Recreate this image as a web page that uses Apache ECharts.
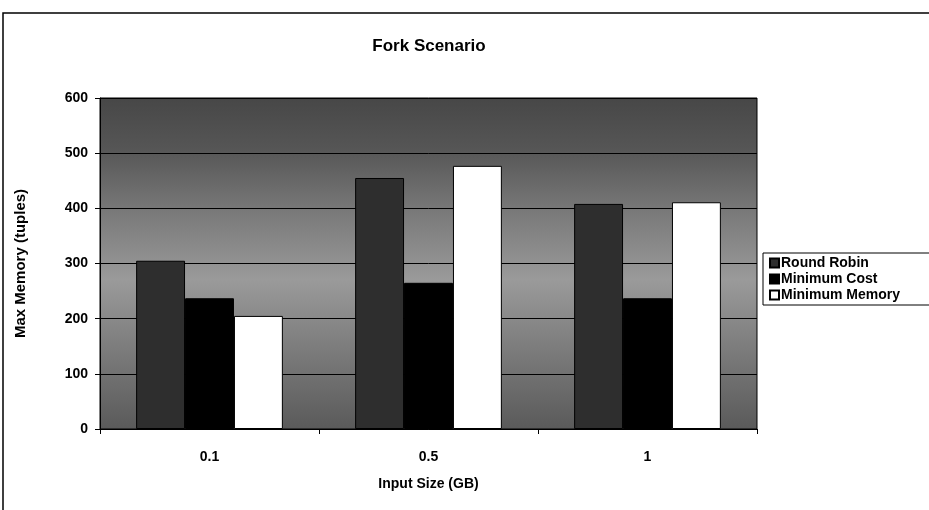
<!DOCTYPE html>
<html>
<head>
<meta charset="utf-8">
<title>Fork Scenario</title>
<script src="https://cdn.jsdelivr.net/npm/echarts@6/dist/echarts.min.js"></script>
<style>
  html, body { margin: 0; padding: 0; background: #fff; }
  #chart { width: 929px; height: 510px; }
</style>
</head>
<body>
<div id="chart"></div>
<script>
// Input sizes (GB) along the category axis
const categories = ['0.1', '0.5', '1'];
// Max memory (tuples) per scheduling strategy
const roundRobin = [305, 455, 408];
const minimumCost = [237, 265, 237];
const minimumMemory = [205, 477, 411];
const seriesNames = ['Round Robin', 'Minimum Cost', 'Minimum Memory'];

const FONT = 'Liberation Sans, Arial, sans-serif';

const chart = echarts.init(document.getElementById('chart'), null, { renderer: 'canvas' });

// Grey fill for the plot area: darker bands at the top and bottom
const plotFill = new echarts.graphic.LinearGradient(0, 0, 0, 1, [
  { offset: 0.00, color: '#474747' },
  { offset: 0.15, color: '#555555' },
  { offset: 0.35, color: '#7a7a7a' },
  { offset: 0.55, color: '#9a9a9a' },
  { offset: 0.75, color: '#7d7d7d' },
  { offset: 1.00, color: '#5a5a5a' }
]);

const barBorder = { borderColor: '#000', borderWidth: 1 };
const labelFont = { fontFamily: FONT, fontWeight: 'bold', color: '#000' };

chart.setOption({
  animation: false,
  backgroundColor: '#fff',
  title: {
    text: 'Fork Scenario',
    left: 424,
    top: 33,
    textAlign: 'center',
    textStyle: Object.assign({ fontSize: 17 }, labelFont)
  },
  legend: {
    orient: 'vertical',
    left: 763,
    top: 253,
    itemWidth: 9,
    itemHeight: 9,
    itemGap: 2,
    icon: 'rect',
    padding: [3, 60, 3, 6],
    borderColor: '#000',
    borderWidth: 1,
    textStyle: Object.assign({ fontSize: 14, padding: [0, 0, 0, -3] }, labelFont),
    data: seriesNames
  },
  grid: {
    left: 100,
    top: 98,
    width: 657,
    height: 331,
    show: true,
    backgroundColor: plotFill,
    borderColor: '#000',
    borderWidth: 1
  },
  xAxis: {
    type: 'category',
    data: categories,
    name: 'Input Size (GB)',
    nameLocation: 'middle',
    nameGap: 48,
    nameTextStyle: Object.assign({ fontSize: 14 }, labelFont),
    axisLine: { lineStyle: { color: '#000', width: 1 } },
    axisTick: { show: true, length: 5, lineStyle: { color: '#000' } },
    axisLabel: Object.assign({ fontSize: 14, margin: 21 }, labelFont)
  },
  yAxis: {
    type: 'value',
    min: 0,
    max: 600,
    interval: 100,
    name: 'Max Memory (tuples)',
    nameLocation: 'middle',
    nameGap: 72,
    nameRotate: 90,
    nameTextStyle: Object.assign({ fontSize: 15 }, labelFont),
    axisLine: { show: true, lineStyle: { color: '#000', width: 1 } },
    axisTick: { show: true, length: 5, lineStyle: { color: '#000' } },
    axisLabel: Object.assign({ fontSize: 14, margin: 12 }, labelFont),
    splitLine: { show: true, lineStyle: { color: '#000', width: 1 } }
  },
  series: [
    {
      name: seriesNames[0],
      type: 'bar',
      data: roundRobin,
      barGap: '0%',
      barCategoryGap: '33%',
      itemStyle: Object.assign({ color: '#2e2e2e' }, barBorder)
    },
    {
      name: seriesNames[1],
      type: 'bar',
      data: minimumCost,
      itemStyle: Object.assign({ color: '#000000' }, barBorder)
    },
    {
      name: seriesNames[2],
      type: 'bar',
      data: minimumMemory,
      itemStyle: Object.assign({ color: '#ffffff' }, barBorder)
    }
  ],
  graphic: [
    // outer chart frame
    {
      type: 'rect',
      shape: { x: 3, y: 13, width: 940, height: 520 },
      style: { fill: 'none', stroke: '#000', lineWidth: 1.5 },
      z: -1
    }
  ]
});
</script>
</body>
</html>
